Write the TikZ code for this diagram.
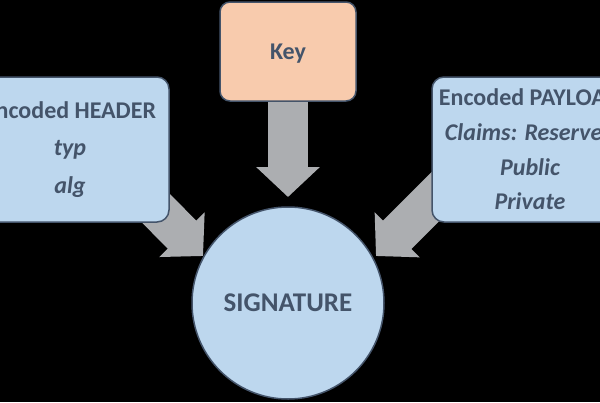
\documentclass[tikz,border=0pt]{standalone}
\usepackage{fontspec}
\setmainfont{Carlito}
\usetikzlibrary{arrows.meta}
\definecolor{ink}{HTML}{44546A}
\definecolor{blueF}{HTML}{BDD7EE}
\definecolor{peach}{HTML}{F8CBAD}
\definecolor{arrowgray}{HTML}{ACAEB1}
\pgfdeclarelayer{back}
\pgfdeclarelayer{bg}
\pgfsetlayers{back,bg,main}
\begin{document}
\begin{tikzpicture}[x=1pt,y=-1pt,
  box/.style={draw=ink, line width=1.5pt, rounded corners=12pt, fill=blueF,
    text=ink, align=center, inner sep=0pt},
  blockarrow/.style={draw=arrowgray, line width=40pt,
    -{Triangle[width=62pt,length=30pt]}, fill=arrowgray}]
\useasboundingbox (0,0) rectangle (600,402);
\begin{pgfonlayer}{back}
  \fill[black] (0,0) rectangle (600,402);
\end{pgfonlayer}

\node[box, fill=peach, rounded corners=10pt, minimum width=136pt, minimum height=99pt,
  text height=15pt, text depth=0pt,
  font=\fontsize{24pt}{29pt}\selectfont\bfseries] (key) at (288,51.5) {Key};

\node[box, minimum width=198pt, minimum height=145pt,
  font=\fontsize{24pt}{37.5pt}\selectfont\bfseries] (hdr) at (70,149.5)
  {Encoded HEADER\\ {\itshape typ}\\ {\itshape alg}};

\node[box, minimum width=196pt, minimum height=145pt,
  font=\fontsize{24pt}{34.7pt}\selectfont\bfseries] (pay) at (530,149.5)
  {Encoded PAYLOAD\\ {\itshape Claims: Reserved}\\ {\itshape Public}\\ {\itshape Private}};

\node[draw=ink, line width=1.5pt, circle, fill=blueF, minimum size=192pt, inner sep=0pt,
  text=ink, font=\fontsize{27pt}{31pt}\selectfont\bfseries] (sig) at (288,303) {SIGNATURE};

\coordinate (ktip) at (288,197);
\coordinate (hstart) at (134,186);
\coordinate (htip) at (203,256);
\coordinate (pstart) at (446,186);
\coordinate (ptip) at (376,256);

\begin{pgfonlayer}{bg}
  \draw[blockarrow] (key.center) -- (ktip);
  \draw[blockarrow] (hstart) -- (htip);
  \draw[blockarrow] (pstart) -- (ptip);
\end{pgfonlayer}
\end{tikzpicture}
\end{document}
